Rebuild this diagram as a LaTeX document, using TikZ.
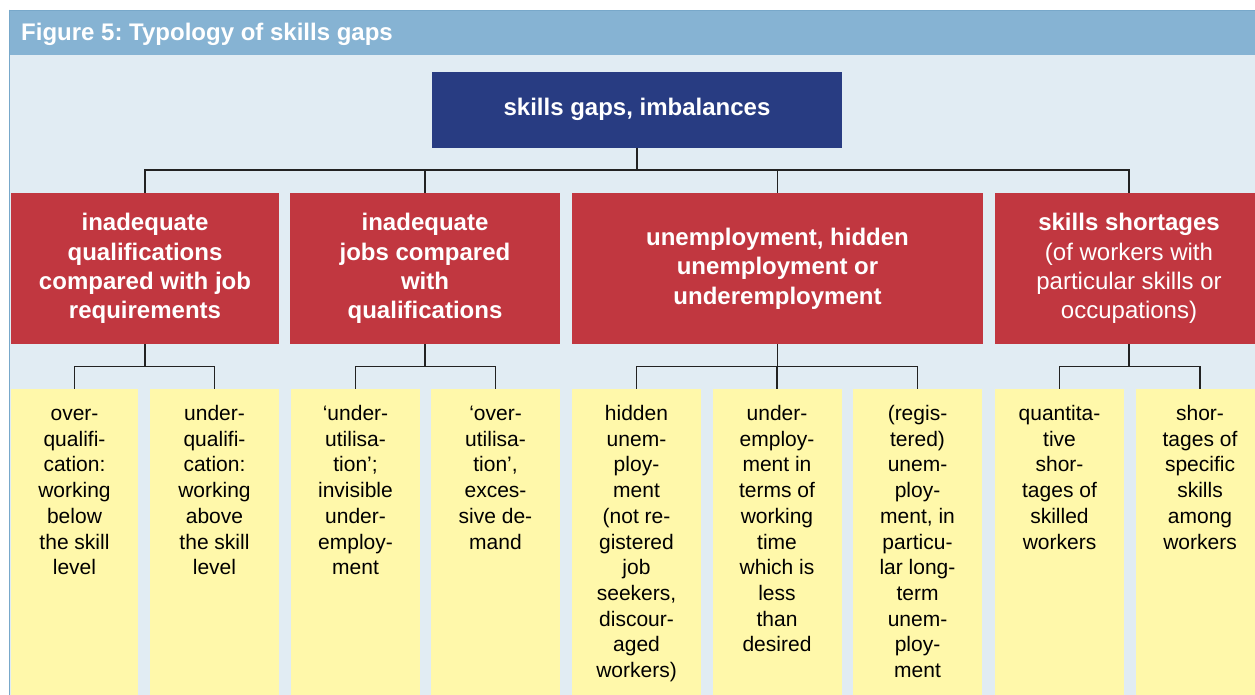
\documentclass[tikz,border=0pt]{standalone}
\usepackage{fontspec}
\setmainfont{Liberation Sans}
\frenchspacing
\definecolor{titlebar}{HTML}{86B3D3}
\definecolor{titleedge}{HTML}{78A8CA}
\definecolor{bodybg}{HTML}{E1ECF3}
\definecolor{topblue}{HTML}{283C82}
\definecolor{boxred}{HTML}{C13740}
\definecolor{boxyellow}{HTML}{FFF8AA}
\definecolor{linegray}{HTML}{222222}
\tikzset{
  topbox/.style={fill=topblue, text=white, font=\fontsize{24}{29}\selectfont\bfseries,
    minimum width=410pt, minimum height=75.5pt, inner sep=0pt},
  redbox/.style={fill=boxred, text=white, font=\fontsize{24}{29.3}\selectfont\bfseries,
    align=center, minimum height=151.5pt, inner sep=0pt},
  yelbox/.style={fill=boxyellow, minimum height=311pt, inner sep=0pt, anchor=north},
  yeltext/.style={anchor=north, align=center, font=\fontsize{21}{25.7}\selectfont,
    inner sep=0pt, text=black},
  conn/.style={draw=linegray, line width=1.4pt},
}
\begin{document}
\begin{tikzpicture}[x=1pt,y=-1pt]
\useasboundingbox (0,0) rectangle (1255,694);
\clip (0,0) rectangle (1255,694);
% frame
\fill[white] (0,0) rectangle (1255,694);
\fill[bodybg] (9,55) rectangle (1256,695);
\fill[titlebar] (9,9.5) rectangle (1256,55);
\draw[titleedge, line width=1pt] (9,10) -- (1256,10);
\draw[titleedge, line width=1pt] (9.5,9.5) -- (9.5,695);
\node[anchor=base west, text=white, font=\fontsize{24}{29}\selectfont\bfseries, inner sep=0pt]
  (title) at (21,40) {Figure 5: Typology of skills gaps};

% top node
\node[topbox] (top) at (637,109.75) {skills gaps, imbalances};

% red boxes
\node[redbox, minimum width=268pt] (r1) at (145,268.5)
  {inadequate\\qualifications\\compared with job\\requirements};
\node[redbox, minimum width=270pt] (r2) at (425,268.5)
  {inadequate\\jobs compared\\with\\qualifications};
\node[redbox, minimum width=411pt] (r3) at (777.5,268.5)
  {unemployment, hidden\\unemployment or\\underemployment};
\node[redbox, minimum width=268pt, font=\fontsize{24}{29.3}\selectfont] (r4) at (1129,268.5)
  {\textbf{skills shortages}\\(of workers with\\particular skills or\\occupations)};

% yellow boxes
\node[yelbox, minimum width=127pt] (y1) at (74.5,389) {};
\node[yelbox, minimum width=129pt] (y2) at (214.5,389) {};
\node[yelbox, minimum width=129pt] (y3) at (355.5,389) {};
\node[yelbox, minimum width=129pt] (y4) at (495.5,389) {};
\node[yelbox, minimum width=129pt] (y5) at (636.5,389) {};
\node[yelbox, minimum width=129pt] (y6) at (777,389) {};
\node[yelbox, minimum width=129pt] (y7) at (917.5,389) {};
\node[yelbox, minimum width=129pt] (y8) at (1059.5,389) {};
\node[yelbox, minimum width=128pt] (y9) at (1200,389) {};

% yellow texts
\node[yeltext] (t1) at (74.5,402.3) {\strut over-\\qualifi-\\cation:\\working\\below\\the skill\\level};
\node[yeltext] (t2) at (214.5,402.3) {\strut under-\\qualifi-\\cation:\\working\\above\\the skill\\level};
\node[yeltext] (t3) at (355.5,402.3) {\strut ‘under-\\utilisa-\\tion’;\\invisible\\under-\\employ-\\ment};
\node[yeltext] (t4) at (495.5,402.3) {\strut ‘over-\\utilisa-\\tion’,\\exces-\\sive de-\\mand};
\node[yeltext] (t5) at (636.5,402.3) {\strut hidden\\unem-\\ploy-\\ment\\(not re-\\gistered\\job\\seekers,\\discour-\\aged\\workers)};
\node[yeltext] (t6) at (777,402.3) {\strut under-\\employ-\\ment in\\terms of\\working\\time\\which is\\less\\than\\desired};
\node[yeltext] (t7) at (917.5,402.3) {\strut (regis-\\tered)\\unem-\\ploy-\\ment, in\\particu-\\lar long-\\term\\unem-\\ploy-\\ment};
\node[yeltext] (t8) at (1059.5,402.3) {\strut quantita-\\tive\\shor-\\tages of\\skilled\\workers};
\node[yeltext] (t9) at (1200,402.3) {\strut shor-\\tages of\\specific\\skills\\among\\workers};

% connectors
\coordinate (bus) at (637,170);
\draw[conn] (top.south) -- (bus);
\draw[conn] (bus) -| (r1.north);
\draw[conn] (bus) -| (r2.north);
\draw[conn] (bus) -| (r3.north);
\draw[conn] (bus) -| (r4.north);

\coordinate (b1) at (145,366.5);
\coordinate (b2) at (425,366.5);
\coordinate (b3) at (777.5,366.5);
\coordinate (b4) at (1129,366.5);
\draw[conn] (r1.south) -- (b1);
\draw[conn] (b1) -| (y1.north);
\draw[conn] (b1) -| (y2.north);
\draw[conn] (r2.south) -- (b2);
\draw[conn] (b2) -| (y3.north);
\draw[conn] (b2) -| (y4.north);
\draw[conn] (r3.south) -- (b3);
\draw[conn] (b3) -| (y5.north);
\draw[conn] (b3) -| (y6.north);
\draw[conn] (b3) -| (y7.north);
\draw[conn] (r4.south) -- (b4);
\draw[conn] (b4) -| (y8.north);
\draw[conn] (b4) -| (y9.north);
\end{tikzpicture}
\end{document}
